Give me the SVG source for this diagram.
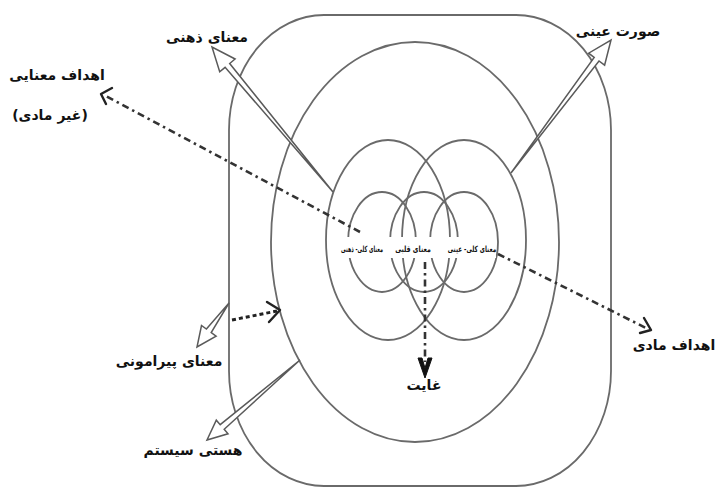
<svg xmlns="http://www.w3.org/2000/svg" width="718" height="489" viewBox="0 0 718 489">
<style>
.ring{fill:none;stroke:#6a6a6a;stroke-width:1.8}
.hollow{fill:#fff;stroke:#5a5a5a;stroke-width:1.5;stroke-linejoin:miter}
.dd{fill:none;stroke:#333;stroke-width:2.6;stroke-dasharray:7 4 2.5 4}
.dot{fill:none;stroke:#222;stroke-width:3;stroke-dasharray:4 3}
.chev{fill:none;stroke:#222;stroke-width:2.4;stroke-linecap:round;stroke-linejoin:round}
.lbl{font-family:"DejaVu Sans",sans-serif;font-size:14px;font-weight:bold;fill:#111;text-anchor:middle}
.small{font-family:"DejaVu Sans",sans-serif;font-size:8.5px;font-weight:bold;fill:#111;text-anchor:middle}
</style>
<rect width="718" height="489" fill="#fff"/>
<g id="rings">
  <rect id="outer" class="ring" x="229" y="15" width="382" height="471" rx="95" ry="115"/>
  <ellipse id="ring2" class="ring" cx="415" cy="242" rx="144" ry="200"/>
  <ellipse id="medium-left" class="ring" cx="388" cy="240" rx="62" ry="100"/>
  <ellipse id="medium-right" class="ring" cx="464" cy="240" rx="62" ry="100"/>
  <ellipse id="small-left" class="ring" cx="382" cy="242" rx="34" ry="50"/>
  <ellipse id="small-mid" class="ring" cx="424" cy="242" rx="34" ry="50"/>
  <ellipse id="small-right" class="ring" cx="464" cy="242" rx="34" ry="50"/>
  <rect x="340" y="237" width="156" height="21" fill="#fff"/>
</g>
<g id="connectors">
  <polygon class="hollow" points="333,192 229.7,63.5 235.1,59.0 212,47 219.7,71.8 225.1,67.3"/>
  <polygon class="hollow" points="511,173 599.0,61.0 604.6,65.2 611,40 588.6,53.2 594.2,57.4"/>
  <polygon class="hollow" points="229,303 211.2,332.6 216.1,336.1 197,347 201.5,325.5 206.4,329.0"/>
  <polygon class="hollow" points="300,360 224.2,429.3 228.0,433.8 207,440 216.3,420.2 220.2,424.7"/>
  <line class="dot" x1="232" y1="320" x2="277" y2="311"/>
  <polyline class="chev" points="267,302 280,310 269,322"/>
  <line class="dd" x1="360" y1="232" x2="104" y2="95"/>
  <polyline class="chev" points="112,88 101,94 106,104"/>
  <line class="dd" x1="498" y1="254" x2="646" y2="328"/>
  <polyline class="chev" points="644,318 651,330 640,333"/>
  <line class="dd" x1="425" y1="262" x2="425" y2="362"/>
  <path d="M418,358 L425,378 L432,358 L428,358 L425,368 L422,358 Z" fill="#111" stroke="#111" stroke-width="1"/>
</g>
<g id="n-zehni"><text class="lbl" x="207" y="42">معنای ذهنی</text></g>
<g id="n-eini"><text class="lbl" x="618" y="36">صورت عینی</text></g>
<g id="n-ahdaf-manayi"><text class="lbl" x="57" y="80">اهداف معنایی</text><text class="lbl" x="50" y="120">(غیر مادی)</text></g>
<g id="n-ahdaf-madi"><text class="lbl" x="674" y="350">اهداف مادی</text></g>
<g id="n-piramooni"><text class="lbl" x="169" y="366">معنای پیرامونی</text></g>
<g id="n-hasti"><text class="lbl" x="193" y="455">هستی سیستم</text></g>
<g id="n-ghayat"><text class="lbl" x="424" y="390">غایت</text></g>
<g id="n-center">
  <text class="small" transform="translate(362,252) scale(0.7,1)" textLength="60" lengthAdjust="spacingAndGlyphs">معنای کلی- ذهنی</text>
  <text class="small" transform="translate(413,252) scale(0.7,1)" textLength="51" lengthAdjust="spacingAndGlyphs">معنای قلبی</text>
  <text class="small" transform="translate(472,252) scale(0.7,1)" textLength="69" lengthAdjust="spacingAndGlyphs">معنای کلی- عینی</text>
</g>
</svg>
